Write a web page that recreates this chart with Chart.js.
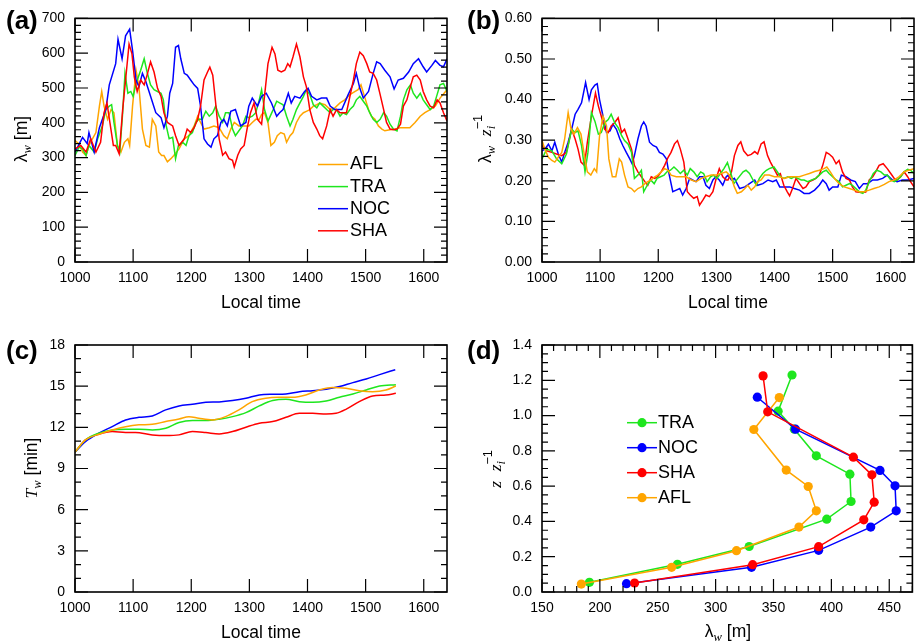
<!DOCTYPE html>
<html>
<head>
<meta charset="utf-8">
<script src="https://cdn.jsdelivr.net/npm/chart.js@4.4.1/dist/chart.umd.min.js"></script>
<style>
  body { margin: 0; background: #fff; }
  canvas { position: absolute; }
</style>
</head>
<body>
<canvas id="pa" width="458" height="318" style="left:0;top:0"></canvas>
<canvas id="pb" width="459" height="318" style="left:458px;top:0"></canvas>
<canvas id="pc" width="458" height="325" style="left:0;top:318px"></canvas>
<canvas id="pd" width="459" height="325" style="left:458px;top:318px"></canvas>
<script>
var SANS = '"Liberation Sans", Arial, Helvetica, sans-serif';
var SERIF = '"Liberation Serif", "Times New Roman", serif';
var COL = { AFL: '#FFA500', TRA: '#1EE61E', NOC: '#0000FF', SHA: '#FF0000' };

// tick labels
var timeTicks = [1000, 1100, 1200, 1300, 1400, 1500, 1600];
var lamTicks = [0, 100, 200, 300, 400, 500, 600, 700];
var ratioTicks = [0, 0.1, 0.2, 0.3, 0.4, 0.5, 0.6];
var tauTicks = [0, 3, 6, 9, 12, 15, 18];
var zTicks = [0, 0.2, 0.4, 0.6, 0.8, 1.0, 1.2, 1.4];
var profTicks = [150, 200, 250, 300, 350, 400, 450];

// (a) lambda_w [m] vs local time, [time, value]
var nocA = [[1000,316],[1013,358],[1021,340],[1024,372],[1033,316],[1042,386],[1053,438],[1059,509],[1070,570],[1074,640],
  [1081,584],[1087,650],[1094,669],[1099,608],[1105,523],[1110,504],[1116,542],[1122,518],[1130,476],[1139,429],
  [1148,415],[1153,386],[1159,419],[1163,485],[1168,513],[1173,617],[1178,622],[1182,584],[1188,542],[1193,537],
  [1199,523],[1205,509],[1211,499],[1216,448],[1222,354],[1228,339],[1234,330],[1239,354],[1245,363],[1251,401],
  [1256,410],[1262,391],[1268,433],[1276,438],[1285,391],[1294,401],[1299,448],[1305,471],[1314,448],[1321,476],
  [1329,485],[1338,457],[1347,419],[1352,429],[1358,438],[1367,485],[1372,457],[1378,476],[1387,471],[1395,490],
  [1401,499],[1407,476],[1416,466],[1424,471],[1433,471],[1439,448],[1447,438],[1459,438],[1470,481],[1479,513],
  [1484,542],[1490,499],[1496,471],[1505,490],[1513,542],[1519,575],[1525,570],[1533,551],[1542,532],[1549,497],
  [1556,523],[1565,528],[1574,546],[1582,570],[1591,584],[1599,561],[1605,546],[1614,565],[1620,579],[1628,565],
  [1634,561],[1640,584]];
var shaA = [[1000,325],[1010,335],[1019,316],[1027,354],[1036,316],[1044,344],[1050,429],[1055,457],[1060,401],[1066,335],
  [1070,335],[1076,311],[1082,438],[1087,523],[1093,626],[1098,598],[1102,532],[1107,490],[1113,523],[1119,509],
  [1124,537],[1130,575],[1136,546],[1142,499],[1148,476],[1153,429],[1159,401],[1168,391],[1173,363],[1179,335],
  [1188,354],[1193,382],[1199,372],[1205,386],[1211,410],[1216,448],[1222,523],[1228,546],[1232,560],[1237,537],
  [1242,457],[1248,354],[1254,307],[1259,316],[1265,297],[1271,292],[1274,273],[1280,307],[1285,325],[1291,335],
  [1297,391],[1302,429],[1308,457],[1314,410],[1321,396],[1326,476],[1332,570],[1339,617],[1344,598],[1349,551],
  [1355,546],[1361,551],[1366,570],[1370,561],[1375,589],[1381,626],[1387,589],[1393,532],[1398,504],[1404,438],
  [1410,401],[1416,382],[1421,363],[1426,354],[1433,391],[1439,438],[1444,419],[1450,438],[1456,429],[1461,429],
  [1467,429],[1473,476],[1479,523],[1484,570],[1490,603],[1496,593],[1502,570],[1507,546],[1513,542],[1519,523],
  [1525,481],[1531,438],[1536,401],[1542,382],[1548,380],[1554,382],[1560,396],[1565,448],[1571,466],[1577,504],
  [1582,532],[1588,537],[1594,523],[1599,490],[1605,466],[1611,448],[1617,443],[1623,466],[1628,457],[1634,429],
  [1640,405]];
var traA = [[1000,306],[1007,330],[1013,325],[1019,306],[1024,335],[1033,316],[1039,354],[1047,391],[1053,438],[1059,448],
  [1063,452],[1067,401],[1073,335],[1077,316],[1082,429],[1086,542],[1091,485],[1096,490],[1100,476],[1105,513],
  [1113,551],[1119,584],[1124,546],[1130,509],[1136,495],[1142,490],[1148,485],[1152,466],[1157,391],[1162,354],
  [1168,358],[1173,297],[1178,335],[1185,344],[1191,335],[1196,363],[1202,372],[1208,401],[1213,410],[1219,410],
  [1225,433],[1231,419],[1237,429],[1242,448],[1248,419],[1254,401],[1259,429],[1265,429],[1271,382],[1276,363],
  [1282,377],[1288,391],[1294,419],[1299,415],[1305,419],[1311,429],[1317,466],[1321,495],[1326,438],[1332,405],
  [1341,438],[1347,462],[1352,457],[1358,452],[1364,419],[1370,391],[1375,410],[1381,438],[1387,457],[1393,476],
  [1398,495],[1404,481],[1410,452],[1416,443],[1421,457],[1427,448],[1433,438],[1439,429],[1444,438],[1450,438],
  [1456,419],[1461,429],[1467,424],[1473,438],[1479,448],[1484,466],[1490,476],[1496,462],[1502,448],[1507,429],
  [1513,410],[1519,401],[1525,410],[1531,429],[1536,419],[1542,396],[1548,382],[1554,377],[1560,419],[1565,466],
  [1571,495],[1577,509],[1582,485],[1588,471],[1594,485],[1599,466],[1605,452],[1611,438],[1617,448],[1623,481],
  [1628,509],[1634,513],[1640,490]];
var aflA = [[1000,349],[1007,339],[1013,316],[1019,306],[1024,335],[1030,354],[1036,372],[1042,448],[1046,490],[1050,448],
  [1056,410],[1062,438],[1067,429],[1073,335],[1079,316],[1085,344],[1091,354],[1094,335],[1099,448],[1105,551],
  [1110,504],[1116,382],[1122,335],[1128,330],[1133,410],[1139,391],[1144,316],[1149,306],[1153,306],[1159,288],
  [1165,297],[1170,306],[1179,325],[1188,354],[1196,363],[1205,391],[1211,419],[1216,401],[1222,382],[1231,386],
  [1239,391],[1248,386],[1256,363],[1262,354],[1268,382],[1274,401],[1282,391],[1291,391],[1299,391],[1305,401],
  [1311,410],[1317,410],[1321,424],[1326,429],[1332,401],[1337,335],[1343,344],[1348,363],[1354,372],[1360,368],
  [1364,344],[1370,363],[1375,372],[1381,401],[1387,419],[1393,429],[1398,433],[1404,438],[1410,448],[1416,452],
  [1421,457],[1430,452],[1439,438],[1447,443],[1456,457],[1464,466],[1473,481],[1482,490],[1487,495],[1492,509],
  [1498,476],[1505,438],[1510,419],[1516,410],[1522,391],[1528,382],[1533,377],[1542,380],[1551,382],[1559,386],
  [1568,386],[1576,386],[1585,401],[1594,419],[1602,429],[1611,438],[1620,448],[1628,471],[1640,495]];

// (b) lambda_w / z_i vs local time
var nocB = [[1000,.274],[1005,.278],[1011,.290],[1017,.274],[1022,.295],[1028,.266],[1034,.246],[1039,.270],[1045,.295],[1051,.327],
  [1057,.364],[1062,.376],[1068,.392],[1075,.442],[1081,.400],[1085,.424],[1091,.436],[1095,.439],[1099,.400],[1105,.359],
  [1111,.319],[1117,.323],[1122,.339],[1128,.327],[1134,.303],[1139,.287],[1145,.270],[1151,.254],[1155,.242],[1159,.262],
  [1165,.303],[1171,.335],[1175,.345],[1179,.335],[1185,.295],[1191,.287],[1197,.283],[1202,.270],[1208,.266],[1214,.254],
  [1219,.214],[1225,.173],[1231,.177],[1237,.181],[1242,.165],[1248,.181],[1254,.206],[1259,.202],[1265,.198],[1271,.210],
  [1277,.210],[1282,.189],[1288,.181],[1294,.202],[1299,.210],[1305,.202],[1311,.189],[1317,.210],[1320,.214],[1326,.202],
  [1331,.206],[1340,.181],[1349,.185],[1357,.193],[1366,.202],[1371,.189],[1380,.193],[1389,.202],[1397,.198],[1403,.202],
  [1409,.185],[1417,.185],[1426,.185],[1434,.181],[1443,.177],[1451,.169],[1460,.169],[1469,.177],[1477,.189],[1483,.202],
  [1489,.193],[1494,.177],[1500,.185],[1509,.185],[1515,.214],[1523,.210],[1531,.202],[1539,.198],[1546,.181],[1553,.193],
  [1560,.193],[1569,.202],[1577,.202],[1586,.206],[1594,.214],[1603,.202],[1611,.198],[1620,.202],[1629,.202],[1640,.206]];
var shaB = [[1000,.287],[1008,.274],[1017,.270],[1025,.266],[1034,.262],[1042,.270],[1051,.327],[1057,.303],[1062,.278],[1067,.246],
  [1073,.238],[1078,.295],[1085,.359],[1092,.416],[1097,.384],[1102,.359],[1108,.327],[1114,.319],[1119,.335],[1125,.343],
  [1131,.355],[1137,.319],[1142,.327],[1148,.303],[1154,.278],[1159,.238],[1165,.222],[1171,.210],[1177,.198],[1182,.189],
  [1188,.210],[1194,.206],[1199,.210],[1205,.222],[1211,.238],[1217,.258],[1222,.270],[1228,.291],[1233,.299],[1238,.278],
  [1244,.246],[1250,.173],[1255,.165],[1261,.157],[1267,.161],[1271,.140],[1277,.153],[1282,.165],[1288,.161],[1294,.173],
  [1299,.202],[1305,.230],[1311,.210],[1317,.202],[1320,.202],[1326,.222],[1331,.262],[1337,.287],[1342,.296],[1347,.274],
  [1354,.262],[1360,.265],[1366,.272],[1371,.266],[1377,.291],[1382,.296],[1388,.262],[1393,.246],[1399,.230],[1405,.214],
  [1410,.218],[1416,.189],[1422,.173],[1426,.163],[1431,.181],[1437,.206],[1443,.193],[1449,.181],[1454,.185],[1460,.198],
  [1466,.202],[1471,.206],[1477,.214],[1483,.238],[1489,.270],[1494,.266],[1500,.258],[1506,.242],[1511,.250],[1517,.222],
  [1523,.206],[1529,.202],[1534,.185],[1540,.173],[1549,.171],[1557,.172],[1563,.202],[1569,.210],[1574,.222],[1580,.238],
  [1587,.242],[1594,.230],[1600,.218],[1606,.206],[1611,.202],[1617,.210],[1623,.222],[1629,.210],[1634,.198],[1640,.185]];
var traB = [[1000,.254],[1008,.278],[1017,.274],[1025,.254],[1034,.242],[1042,.266],[1051,.327],[1057,.319],[1062,.323],[1068,.287],
  [1074,.222],[1079,.270],[1085,.368],[1091,.347],[1097,.315],[1102,.319],[1108,.343],[1114,.351],[1119,.364],[1125,.343],
  [1131,.331],[1137,.311],[1142,.299],[1148,.291],[1154,.270],[1159,.206],[1165,.214],[1171,.226],[1175,.173],[1181,.189],
  [1187,.202],[1193,.193],[1198,.206],[1204,.210],[1210,.214],[1215,.222],[1221,.226],[1227,.234],[1233,.226],[1238,.218],
  [1244,.226],[1250,.214],[1255,.230],[1261,.222],[1267,.210],[1273,.222],[1278,.218],[1284,.198],[1290,.210],[1295,.214],
  [1301,.206],[1307,.218],[1313,.230],[1319,.245],[1325,.218],[1330,.193],[1337,.206],[1346,.222],[1351,.226],[1357,.218],
  [1363,.202],[1369,.189],[1374,.206],[1380,.218],[1386,.226],[1391,.230],[1399,.234],[1405,.222],[1410,.210],[1416,.206],
  [1423,.210],[1429,.206],[1434,.210],[1440,.206],[1446,.202],[1451,.202],[1457,.198],[1464,.202],[1471,.206],[1477,.214],
  [1483,.222],[1489,.226],[1494,.218],[1500,.210],[1506,.202],[1511,.198],[1517,.185],[1523,.189],[1529,.193],[1534,.189],
  [1540,.181],[1546,.173],[1552,.169],[1557,.177],[1563,.198],[1570,.218],[1576,.226],[1583,.222],[1589,.214],[1594,.214],
  [1600,.202],[1606,.198],[1611,.202],[1617,.210],[1623,.222],[1629,.228],[1634,.226],[1640,.218]];
var aflB = [[1000,.299],[1005,.278],[1011,.258],[1017,.250],[1022,.246],[1028,.258],[1034,.270],[1039,.303],[1045,.368],[1050,.327],
  [1055,.315],[1061,.331],[1067,.315],[1073,.262],[1078,.222],[1084,.214],[1090,.230],[1094,.222],[1099,.311],[1105,.359],
  [1111,.335],[1115,.254],[1121,.210],[1127,.210],[1133,.254],[1137,.246],[1142,.214],[1148,.185],[1154,.181],[1159,.173],
  [1165,.181],[1171,.185],[1177,.193],[1182,.198],[1188,.202],[1194,.210],[1199,.214],[1205,.222],[1211,.230],[1217,.226],
  [1222,.214],[1231,.210],[1239,.210],[1248,.210],[1257,.202],[1265,.198],[1274,.206],[1282,.210],[1291,.214],[1299,.214],
  [1308,.218],[1317,.222],[1320,.218],[1326,.206],[1331,.185],[1336,.169],[1343,.173],[1349,.181],[1354,.189],[1360,.177],
  [1366,.185],[1371,.198],[1377,.202],[1383,.214],[1391,.214],[1400,.210],[1409,.210],[1417,.206],[1426,.210],[1434,.210],
  [1443,.210],[1451,.214],[1460,.218],[1469,.223],[1477,.226],[1485,.230],[1490,.234],[1496,.222],[1503,.206],[1511,.193],
  [1520,.185],[1529,.181],[1537,.177],[1546,.173],[1554,.173],[1563,.177],[1571,.181],[1580,.185],[1589,.191],[1597,.198],
  [1606,.202],[1614,.210],[1623,.222],[1631,.226],[1640,.230]];

// (c) T_w [min] vs local time
var nocC = [[1000,10.2],[1018,10.96],[1041,11.57],[1064,12.05],[1087,12.54],[1110,12.73],[1133,12.83],[1156,13.27],[1179,13.56],
  [1202,13.68],[1225,13.82],[1248,13.85],[1271,13.95],[1294,14.12],[1317,14.36],[1340,14.41],[1363,14.43],[1386,14.6],
  [1409,14.67],[1432,14.77],[1455,14.97],[1478,15.26],[1501,15.52],[1524,15.84],[1551,16.2]];
var aflC = [[1000,10.2],[1018,11.08],[1041,11.5],[1064,11.81],[1087,12.05],[1110,12.18],[1133,12.22],[1156,12.42],[1179,12.61],
  [1196,12.78],[1213,12.66],[1236,12.54],[1259,12.78],[1282,13.27],[1305,13.87],[1328,14.12],[1351,14.19],[1374,14.19],
  [1397,14.36],[1420,14.72],[1443,14.91],[1466,14.85],[1489,14.67],[1512,14.6],[1535,14.72],[1552,15.01]];
var traC = [[1000,10.2],[1018,11.08],[1041,11.57],[1064,11.81],[1087,11.86],[1110,11.86],[1133,11.81],[1156,11.93],[1179,12.35],
  [1202,12.49],[1225,12.49],[1248,12.59],[1271,12.78],[1294,13.07],[1317,13.56],[1340,13.95],[1363,14.05],[1386,13.87],
  [1409,13.82],[1432,13.92],[1455,14.19],[1478,14.43],[1501,14.72],[1524,15.01],[1552,15.11]];
var shaC = [[1000,10.2],[1018,11.08],[1041,11.5],[1064,11.69],[1087,11.62],[1104,11.62],[1133,11.45],[1156,11.4],[1179,11.45],
  [1202,11.69],[1225,11.62],[1248,11.52],[1271,11.69],[1294,12.01],[1317,12.3],[1340,12.42],[1363,12.73],[1386,13.02],
  [1409,13.02],[1432,12.97],[1449,13.02],[1466,13.31],[1489,13.87],[1512,14.29],[1535,14.36],[1552,14.48]];

// (d) profiles: [lambda_w, z/z_i]
var traD = [[191,0.055],[267,0.157],[329,0.258],[396,0.413],[417,0.513],[416,0.668],[387,0.772],[368,0.923],[354,1.025],[366,1.230]];
var nocD = [[223,0.047],[331,0.140],[389,0.236],[434,0.368],[456,0.460],[455,0.602],[442,0.689],[369,0.923],[336,1.104]];
var shaD = [[230,0.051],[332,0.155],[389,0.257],[428,0.409],[437,0.509],[435,0.664],[419,0.764],[345,1.021],[341,1.225]];
var aflD = [[184,0.045],[262,0.140],[318,0.234],[372,0.368],[387,0.460],[380,0.598],[361,0.691],[333,0.921],[355,1.102]];

function xy(pairs) {
  return pairs.map(function (p) { return { x: p[0], y: p[1] }; });
}

function series(name, pairs, dots) {
  return {
    label: name,
    data: xy(pairs),
    borderColor: COL[name],
    backgroundColor: COL[name],
    borderWidth: 1.5,
    pointRadius: dots ? 4.6 : 0,
    pointBorderWidth: 0,
    fill: false
  };
}

// draws a title with sub/superscripts; vertical = rotated for y axes
function richText(ctx, parts, x, y, vertical, size) {
  ctx.save();
  ctx.translate(x, y);
  if (vertical) ctx.rotate(-Math.PI / 2);
  ctx.textBaseline = 'middle';
  ctx.textAlign = 'left';
  ctx.fillStyle = '#000';
  var pos = 0, prevStart = 0, items = [];
  parts.forEach(function (p) {
    var s = (p.sub || p.sup) ? size * 0.72 : size;
    var font = (p.it ? 'italic ' : '') + s + 'px ' + (p.it ? SERIF : SANS);
    ctx.font = font;
    var w = ctx.measureText(p.t).width;
    var start = p.back ? prevStart : pos;
    items.push({ t: p.t, font: font, x: start, dy: p.sub ? size * 0.3 : (p.sup ? -size * 0.42 : 0) });
    prevStart = start;
    pos = Math.max(pos, start + w);
  });
  items.forEach(function (it) {
    ctx.font = it.font;
    ctx.fillText(it.t, it.x - pos / 2, it.dy);
  });
  ctx.restore();
}

function makePanel(id, cfg) {
  var canvas = document.getElementById(id);
  var area = cfg.area;

  var deco = {
    id: 'deco_' + id,
    afterDraw: function (chart) {
      var ctx = chart.ctx, a = chart.chartArea, sx = chart.scales.x, sy = chart.scales.y;
      ctx.save();
      ctx.strokeStyle = '#000';
      ctx.lineWidth = 1.2;
      ctx.beginPath();
      function xt(v, len) {
        var p = sx.getPixelForValue(v);
        ctx.moveTo(p, a.bottom); ctx.lineTo(p, a.bottom - len);
        ctx.moveTo(p, a.top); ctx.lineTo(p, a.top + len);
      }
      function yt(v, len) {
        var p = sy.getPixelForValue(v);
        ctx.moveTo(a.left, p); ctx.lineTo(a.left + len, p);
        ctx.moveTo(a.right, p); ctx.lineTo(a.right - len, p);
      }
      var i, n;
      if (cfg.xMinor) {
        n = Math.round((cfg.xMax - cfg.xMin) / cfg.xMinor);
        for (i = 0; i <= n; i++) xt(cfg.xMin + i * cfg.xMinor, 6);
      }
      if (cfg.yMinor) {
        n = Math.round((cfg.yMax - cfg.yMin) / cfg.yMinor);
        for (i = 0; i <= n; i++) yt(cfg.yMin + i * cfg.yMinor, 6);
      }
      cfg.xTicks.forEach(function (v) { xt(v, 13); });
      cfg.yTicks.forEach(function (v) { yt(v, 13); });
      ctx.stroke();
      ctx.lineWidth = 1.6;
      ctx.strokeRect(a.left, a.top, a.right - a.left, a.bottom - a.top);

      ctx.fillStyle = '#000';
      ctx.font = 'bold 26px ' + SANS;
      ctx.textBaseline = 'middle';
      ctx.textAlign = 'left';
      ctx.fillText(cfg.label, cfg.labelPos[0], cfg.labelPos[1]);

      richText(ctx, cfg.xTitle, cfg.xTitlePos[0], cfg.xTitlePos[1], false, 17.5);
      richText(ctx, cfg.yTitle, cfg.yTitlePos[0], cfg.yTitlePos[1], true, 17.5);

      var L = cfg.legend;
      if (L) {
        L.items.forEach(function (name, k) {
          var y = L.y0 + k * L.dy;
          ctx.strokeStyle = COL[name];
          ctx.lineWidth = 1.5;
          ctx.beginPath();
          ctx.moveTo(L.x0, y); ctx.lineTo(L.x1, y);
          ctx.stroke();
          if (L.dots) {
            ctx.fillStyle = COL[name];
            ctx.beginPath();
            ctx.arc((L.x0 + L.x1) / 2, y, 4.6, 0, Math.PI * 2);
            ctx.fill();
          }
          ctx.fillStyle = '#000';
          ctx.font = '18px ' + SANS;
          ctx.textBaseline = 'middle';
          ctx.fillText(name, L.tx, y);
        });
      }
      ctx.restore();
    }
  };

  var tickFont = { family: SANS, size: 14 };

  return new Chart(canvas, {
    type: 'line',
    data: { datasets: cfg.datasets },
    options: {
      responsive: false,
      animation: false,
      devicePixelRatio: 1,
      layout: { padding: { top: area.top, right: canvas.width - area.right, left: 0, bottom: 0 } },
      plugins: { legend: { display: false }, tooltip: { enabled: false } },
      elements: { line: { tension: cfg.tension || 0, cubicInterpolationMode: cfg.tension ? 'monotone' : 'default' } },
      scales: {
        x: {
          type: 'linear', min: cfg.xMin, max: cfg.xMax,
          grid: { display: false, drawTicks: false },
          border: { display: false },
          ticks: {
            color: '#000', font: tickFont, padding: 8, maxRotation: 0, autoSkip: false,
            callback: function (v) { return String(v); }
          },
          afterBuildTicks: function (s) { s.ticks = cfg.xTicks.map(function (v) { return { value: v }; }); },
          afterFit: function (s) { s.height = canvas.height - area.bottom; }
        },
        y: {
          type: 'linear', min: cfg.yMin, max: cfg.yMax,
          grid: { display: false, drawTicks: false },
          border: { display: false },
          ticks: { color: '#000', font: tickFont, padding: 10, autoSkip: false, callback: cfg.yFmt },
          afterBuildTicks: function (s) { s.ticks = cfg.yTicks.map(function (v) { return { value: v }; }); },
          afterFit: function (s) { s.width = area.left; }
        }
      }
    },
    plugins: [deco]
  });
}

var lamTitle = [{ t: 'λ' }, { t: 'w', it: 1, sub: 1 }, { t: ' [m]' }];

makePanel('pa', {
  area: { left: 75, top: 15, right: 447, bottom: 262 },
  xMin: 1000, xMax: 1640, xTicks: timeTicks,
  yMin: 0, yMax: 700, yTicks: lamTicks, yMinor: 20,
  yFmt: function (v) { return String(v); },
  label: '(a)', labelPos: [6, 22],
  xTitle: [{ t: 'Local time' }], xTitlePos: [261, 303],
  yTitle: lamTitle, yTitlePos: [22, 139],
  legend: { items: ['AFL', 'TRA', 'NOC', 'SHA'], x0: 318, x1: 348, tx: 350, y0: 164.5, dy: 22.1 },
  datasets: [series('SHA', shaA), series('NOC', nocA), series('TRA', traA), series('AFL', aflA)]
});

makePanel('pb', {
  area: { left: 84, top: 15, right: 456, bottom: 262 },
  xMin: 1000, xMax: 1640, xTicks: timeTicks,
  yMin: 0, yMax: 0.6, yTicks: ratioTicks, yMinor: 0.02,
  yFmt: function (v) { return v.toFixed(2); },
  label: '(b)', labelPos: [9, 22],
  xTitle: [{ t: 'Local time' }], xTitlePos: [270, 303],
  yTitle: [{ t: 'λ' }, { t: 'w', it: 1, sub: 1 }, { t: '  ' }, { t: 'z', it: 1 }, { t: 'i', it: 1, sub: 1 }, { t: '−1', sup: 1, back: 1 }],
  yTitlePos: [28, 139],
  datasets: [series('AFL', aflB), series('TRA', traB), series('SHA', shaB), series('NOC', nocB)]
});

makePanel('pc', {
  area: { left: 75, top: 27, right: 447, bottom: 274 },
  xMin: 1000, xMax: 1640, xTicks: timeTicks,
  yMin: 0, yMax: 18, yTicks: tauTicks, yMinor: 1,
  yFmt: function (v) { return String(v); },
  tension: 0.4,
  label: '(c)', labelPos: [6, 34],
  xTitle: [{ t: 'Local time' }], xTitlePos: [261, 315],
  yTitle: [{ t: 'T', it: 1 }, { t: 'w', it: 1, sub: 1 }, { t: ' [min]' }], yTitlePos: [32, 150],
  datasets: [series('AFL', aflC), series('TRA', traC), series('NOC', nocC), series('SHA', shaC)]
});

makePanel('pd', {
  area: { left: 84, top: 27, right: 456, bottom: 274 },
  xMin: 150, xMax: 470, xTicks: profTicks, xMinor: 10,
  yMin: 0, yMax: 1.4, yTicks: zTicks, yMinor: 0.05,
  yFmt: function (v) { return v.toFixed(1); },
  label: '(d)', labelPos: [9, 34],
  xTitle: lamTitle, xTitlePos: [270, 314],
  yTitle: [{ t: 'z', it: 1 }, { t: '  ' }, { t: 'z', it: 1 }, { t: 'i', it: 1, sub: 1 }, { t: '−1', sup: 1, back: 1 }],
  yTitlePos: [38, 151],
  legend: { items: ['TRA', 'NOC', 'SHA', 'AFL'], x0: 169, x1: 199, tx: 200, y0: 104.7, dy: 25, dots: true },
  datasets: [series('SHA', shaD, true), series('AFL', aflD, true), series('NOC', nocD, true), series('TRA', traD, true)]
});
</script>
</body>
</html>
